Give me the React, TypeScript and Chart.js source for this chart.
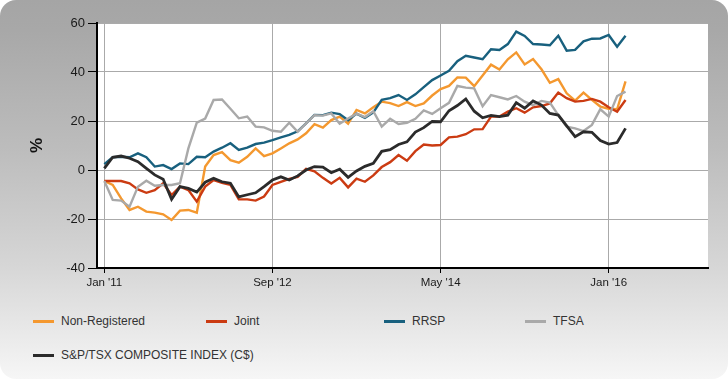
import React, { useEffect, useRef } from 'react';
import { Chart, registerables } from 'chart.js';

Chart.register(...registerables);

// Month index 0 = Jan 2011 (monthly points through Mar 2016)
const tickMonths = [0, 20, 40, 60];
const tickLabels = ["Jan '11", "Sep '12", "May '14", "Jan '16"];

const seriesLabels = ['Non-Registered', 'Joint', 'RRSP', 'TFSA', 'S&P/TSX COMPOSITE INDEX (C$)'];
const seriesColors = ['#f4982f', '#cb3b12', '#18607e', '#a9a9a9', '#2b2b2b'];

const nonRegistered = [
  -4.5, -6.1, -11.6, -16.3, -15, -17, -17.4, -18.1, -20.4, -16.6, -16.3, -17.4,
  1.4, 6.1, 7.3, 4, 3, 5.4, 8.8, 5.7, 6.8, 8.8, 10.9, 12.5,
  15, 18.7, 17.3, 20.4, 21.8, 18.9, 24.5, 23.1, 25.6, 27.9, 27.3, 26.1,
  27.7, 26.1, 27.2, 30.4, 33, 34.3, 37.8, 37.7, 34.2, 38.6, 43, 41,
  45.2, 48, 43.1, 45.3, 41.1, 35.6, 37.1, 31.3, 28.3, 31.6, 28.6, 25.9,
  25, 24.8, 36.2,
];
const joint = [
  -4.5, -4.5, -4.5, -5.4, -7.9, -9.3, -8.2, -5.4, -10.2, -6.8, -8.2, -12.9,
  -6.8, -4.1, -5.2, -6.1, -12, -12, -12.5, -10.8, -6.1, -4.8, -3.6, -2.8,
  0.5, -0.5, -3.2, -5.5, -3.2, -7.1, -3.5, -4.8, -2.2, 1.2, 3.2, 6.1,
  3.8, 7.7, 10.4, 10, 10.2, 13.3, 13.6, 14.6, 16.6, 16.7, 21.8, 21.8,
  23.8, 25.2, 23.4, 25.6, 26.1, 27.2, 31.6, 29.3, 27.9, 28.2, 29, 27.9,
  25.6, 23.8, 28.6,
];
const rrsp = [
  2.4, 5.2, 5.4, 5.2, 6.8, 5.2, 1.4, 2, 0.4, 2.7, 2.4, 5.4,
  5.2, 7.5, 9.1, 10.9, 8.2, 9.1, 10.6, 11.2, 12.2, 13.3, 14.3, 15.8,
  19, 22.5, 22.4, 23.4, 22.8, 20.3, 23, 21.3, 23.5, 28.6, 29.3, 30.6,
  28.6, 30.9, 33.8, 36.7, 38.6, 40.5, 44.4, 46.6, 45.9, 45.2, 49.3, 49,
  51.4, 56.5, 54.7, 51.4, 51.2, 50.9, 54.8, 48.7, 49, 52.5, 53.6, 53.7,
  55.1, 50.3, 54.8,
];
const tfsa = [
  -4.5, -12.2, -12.5, -15, -6.8, -4.4, -6.4, -6.1, -6.1, -5.4, 8.8, 19.3,
  21, 28.6, 28.8, 25, 21.1, 21.8, 17.7, 17.4, 16, 15.6, 19.3, 15.6,
  19, 22.4, 22.2, 23.1, 18.9, 21, 23, 21.6, 24, 17.7, 20.9, 18.8,
  19.3, 20.9, 24.3, 22.9, 25.2, 27.4, 34.3, 33.6, 33.3, 26, 30.6, 29.7,
  28.8, 30.2, 27.9, 26.5, 28.2, 27.5, 22.4, 17.7, 17, 15.9, 18.4, 24.8,
  21.8, 30.2, 32,
];
const tsx = [
  0.7, 5.2, 5.7, 4.8, 3.4, 0.7, -2, -3.8, -12, -6.8, -7.5, -9,
  -5, -3.4, -4.8, -5.4, -11, -10.1, -9.3, -6.8, -4.1, -2.8, -4.1, -2.4,
  0, 1.4, 1.2, -1.1, 0.3, -3, -0.4, 1.5, 2.7, 7.6, 8.3, 10.4,
  11.5, 15.5, 17.3, 19.8, 19.7, 24.2, 26.3, 29, 24, 21.3, 22.3, 21.8,
  22.4, 27.5, 25.2, 28.2, 26.5, 23.1, 22.4, 18, 13.6, 15.6, 15.4, 12,
  10.6, 11.2, 17,
];

const allSeries = [nonRegistered, joint, rrsp, tfsa, tsx];

const legendPos = [
  { left: 33, top: 321 },
  { left: 206, top: 321 },
  { left: 384, top: 321 },
  { left: 525, top: 321 },
  { left: 33, top: 355 },
];

const FONT = '"Liberation Sans", Arial, Helvetica, sans-serif';

const plotBg = {
  id: 'plotBg',
  beforeDraw(chart: any) {
    const { ctx, chartArea: a } = chart;
    ctx.save();
    ctx.fillStyle = '#ffffff';
    ctx.fillRect(a.left, a.top, a.right - a.left, a.bottom - a.top);
    ctx.restore();
  },
};

export default function App() {
  const ref = useRef<HTMLCanvasElement | null>(null);

  useEffect(() => {
    if (!ref.current) return;
    const datasets = allSeries.map((s, k) => ({
      label: seriesLabels[k],
      data: s.map((v, i) => ({ x: i, y: v })),
      borderColor: seriesColors[k],
      backgroundColor: seriesColors[k],
      borderWidth: k === 4 ? 2.8 : 2.4,
      pointRadius: 0,
      tension: 0,
      fill: false,
      order: 5 - k,
    }));
    const chart = new Chart(ref.current, {
      type: 'line',
      data: { datasets },
      plugins: [plotBg],
      options: {
        animation: false,
        responsive: false,
        devicePixelRatio: 1,
        layout: { padding: { top: 23, right: 20, left: 0, bottom: 0 } },
        plugins: { legend: { display: false }, tooltip: { enabled: false } },
        scales: {
          x: {
            type: 'linear',
            min: -0.87,
            max: 71.81,
            afterFit: (s: any) => { s.height = 32; },
            afterBuildTicks: (s: any) => { s.ticks = tickMonths.map((v) => ({ value: v })); },
            ticks: {
              autoSkip: false,
              maxRotation: 0,
              padding: 3,
              color: '#1a1a1a',
              font: { family: FONT, size: 11.5 },
              callback: (v: any) => {
                const i = tickMonths.indexOf(Number(v));
                return i >= 0 ? tickLabels[i] : '';
              },
            },
            grid: { color: '#aaaaaa', lineWidth: 1, tickLength: 5, tickColor: '#000000' },
            border: { display: true, color: '#000000', width: 2 },
          },
          y: {
            min: -40,
            max: 60,
            afterFit: (s: any) => { s.width = 97; },
            ticks: {
              stepSize: 20,
              padding: 3,
              color: '#1a1a1a',
              font: { family: FONT, size: 13 },
            },
            grid: { color: '#aaaaaa', lineWidth: 1, tickLength: 9, tickColor: '#000000' },
            border: { display: true, color: '#000000', width: 2 },
            title: {
              display: true,
              text: '%',
              color: '#111111',
              font: { family: FONT, size: 17, weight: 'bold' },
              padding: { top: 27, bottom: 0 },
            },
          },
        },
      },
    });
    return () => chart.destroy();
  }, []);

  return (
    <div
      style={{
        position: 'fixed',
        left: 0,
        top: 0,
        width: 728,
        height: 379,
        background: '#ffffff',
      }}
    >
      <div
        style={{
          position: 'absolute',
          left: 0,
          top: 0,
          width: 728,
          height: 379,
          borderRadius: 16,
          background:
            'linear-gradient(to bottom, #a5a5a5 0%, #a8a8a8 8%, #bdbdbd 40%, #d6d6d6 70%, #f6f6f6 100%)',
        }}
      />
      <canvas
        ref={ref}
        width={728}
        height={300}
        style={{ position: 'absolute', left: 0, top: 0, width: 728, height: 300 }}
      />
      {seriesLabels.map((lab, k) => (
        <div
          key={lab}
          style={{
            position: 'absolute',
            left: legendPos[k].left,
            top: legendPos[k].top - 8,
            height: 16,
            display: 'flex',
            alignItems: 'center',
            whiteSpace: 'nowrap',
            fontFamily: FONT,
            fontSize: 12,
            color: '#333333',
          }}
        >
          <span
            style={{
              display: 'inline-block',
              width: 21,
              height: 3,
              background: seriesColors[k],
              marginRight: 7,
            }}
          />
          <span>{lab}</span>
        </div>
      ))}
    </div>
  );
}
